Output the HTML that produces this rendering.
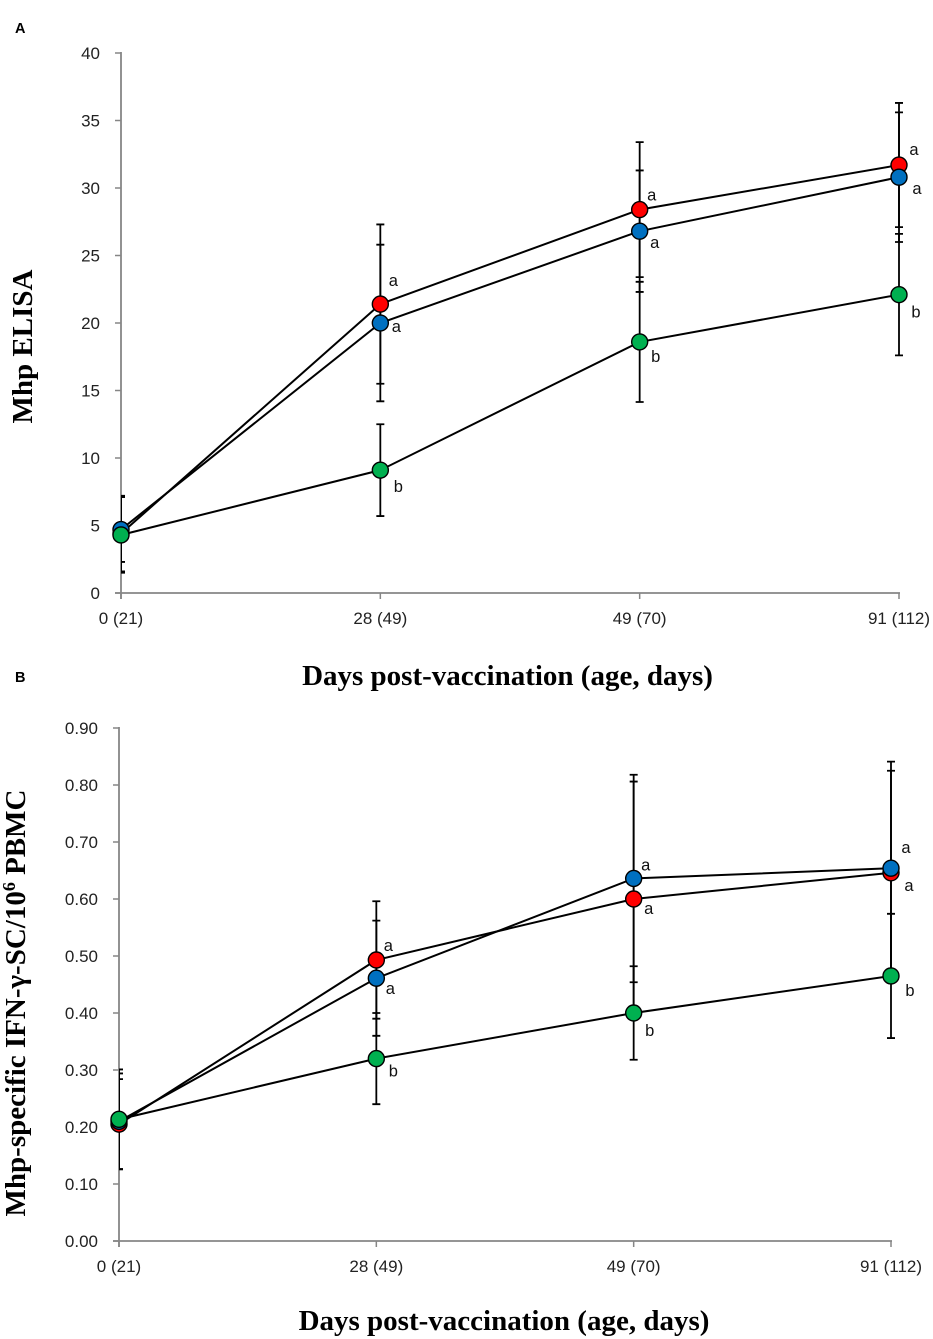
<!DOCTYPE html>
<html lang="en">
<head>
<meta charset="utf-8">
<title>Mhp ELISA and IFN-γ-SC responses</title>
<style>
html,body{margin:0;padding:0;background:#fff;}
svg{display:block;}
.tick{font-family:"Liberation Sans",sans-serif;font-size:17px;fill:#222;}
.letter{font-family:"Liberation Sans",sans-serif;font-size:16.5px;fill:#111;}
.title{font-family:"Liberation Serif",serif;font-weight:bold;font-size:29px;fill:#000;}
.panel{font-family:"Liberation Sans",sans-serif;font-weight:bold;font-size:14.5px;fill:#000;}
</style>
</head>
<body>
<svg id="figure" xmlns="http://www.w3.org/2000/svg" width="933" height="1339" viewBox="0 0 933 1339">
  <rect width="933" height="1339" fill="#fff"></rect>
  <defs>
    <clipPath id="clip-a"><rect x="121" y="40" width="800" height="553"></rect></clipPath>
    <clipPath id="clip-b"><rect x="119" y="715" width="800" height="526"></rect></clipPath>
  </defs>
  <text class="panel" x="15" y="33">A</text>
  <text class="panel" x="15" y="682">B</text>
  <g id="chart-a"></g>
  <g id="chart-b"></g>
  <text class="title" text-anchor="middle" transform="translate(32,346.5) rotate(-90)">Mhp ELISA</text>
  <text class="title" text-anchor="middle" x="507.5" y="685">Days post-vaccination (age, days)</text>
  <text class="title" text-anchor="middle" transform="translate(25,1003) rotate(-90)">Mhp-specific IFN-γ-SC/10<tspan font-size="18" dy="-10">6</tspan><tspan dy="10"> PBMC</tspan></text>
  <text class="title" text-anchor="middle" x="504" y="1330">Days post-vaccination (age, days)</text>
</svg>
<script>
const categories = ['0 (21)', '28 (49)', '49 (70)', '91 (112)'];

const elisaTicks = ['0', '5', '10', '15', '20', '25', '30', '35', '40'];
const elisaRed = [4.4, 21.4, 28.4, 31.7];
const elisaRedErr = [2.8, 5.9, 5.0, 4.6];
const elisaBlue = [4.7, 20.0, 26.8, 30.8];
const elisaBlueErr = [2.4, 5.8, 4.5, 4.8];
const elisaGreen = [4.3, 9.1, 18.6, 22.1];
const elisaGreenErr = [2.8, 3.4, 4.45, 4.5];
const elisaRedLetters = ['', 'a', 'a', 'a'];
const elisaBlueLetters = ['', 'a', 'a', 'a'];
const elisaGreenLetters = ['', 'b', 'b', 'b'];

const ifnTicks = ['0.00', '0.10', '0.20', '0.30', '0.40', '0.50', '0.60', '0.70', '0.80', '0.90'];
const ifnRed = [0.205, 0.493, 0.600, 0.646];
const ifnRedErr = [0.079, 0.103, 0.206, 0.179];
const ifnBlue = [0.210, 0.461, 0.636, 0.654];
const ifnBlueErr = [0.084, 0.101, 0.182, 0.187];
const ifnGreen = [0.2135, 0.320, 0.400, 0.465];
const ifnGreenErr = [0.0875, 0.080, 0.082, 0.109];
const ifnRedLetters = ['', 'a', 'a', 'a'];
const ifnBlueLetters = ['', 'a', 'a', 'a'];
const ifnGreenLetters = ['', 'b', 'b', 'b'];

const NS = 'http://www.w3.org/2000/svg';
function make(parent, tag, attrs, text) {
  const el = document.createElementNS(NS, tag);
  for (const k in attrs) el.setAttribute(k, attrs[k]);
  if (text !== undefined) el.textContent = text;
  parent.appendChild(el);
  return el;
}

function drawChart(root, cfg) {
  const xOf = i => cfg.x0 + (cfg.x1 - cfg.x0) * i / (categories.length - 1);
  const yMax = parseFloat(cfg.ticks[cfg.ticks.length - 1]);
  const yOf = v => cfg.y0 + (cfg.yTop - cfg.y0) * v / yMax;
  const axis = '#868686';

  const yLine = make(root, 'line', {x1: cfg.x0, x2: cfg.x0, y1: cfg.yTop - 1, y2: cfg.y0 + 6, stroke: axis, 'stroke-width': 1.8});
  
  
  const xLine = make(root, 'line', {x1: cfg.x0 - 6, x2: cfg.x1 + 1, y1: cfg.y0, y2: cfg.y0, stroke: axis, 'stroke-width': 1.8});
  
  

  cfg.ticks.forEach(label => {
    const y = yOf(parseFloat(label));
    const t = make(root, 'line', {x1: cfg.x0 - 6, x2: cfg.x0, y1: y, y2: y, stroke: axis, 'stroke-width': 1.5});
    
    
    const l = make(root, 'text', {class: 'tick', x: cfg.x0 - 21, y: y + 6, 'text-anchor': 'end'}, label);
    
    
  });
  categories.forEach((label, i) => {
    const x = xOf(i);
    const t = make(root, 'line', {x1: x, x2: x, y1: cfg.y0, y2: cfg.y0 + 6, stroke: axis, 'stroke-width': 1.5});
    
    
    const l = make(root, 'text', {class: 'tick', x: x, y: cfg.y0 + 31, 'text-anchor': 'middle'}, label);
    
    
  });

  const errGroup = make(root, 'g', {'clip-path': 'url(#' + cfg.clip + ')', stroke: '#000', 'stroke-width': 1.8, fill: 'none'});
  
  
  cfg.series.forEach(s => {
    s.values.forEach((v, i) => {
      const x = xOf(i), hi = yOf(v + s.err[i]), lo = yOf(v - s.err[i]);
      const bar = make(errGroup, 'path', {d: 'M' + x + ' ' + hi + 'V' + lo + 'M' + (x - 4) + ' ' + hi + 'H' + (x + 4) + 'M' + (x - 4) + ' ' + lo + 'H' + (x + 4)});
      
      
    });
  });

  cfg.series.forEach(s => {
    const pts = s.values.map((v, i) => xOf(i) + ',' + yOf(v)).join(' ');
    const line = make(root, 'polyline', {points: pts, fill: 'none', stroke: '#000', 'stroke-width': 2});
    
    
  });
  cfg.series.forEach(s => {
    s.values.forEach((v, i) => {
      const dot = make(root, 'circle', {cx: xOf(i), cy: yOf(v), r: 8, fill: s.color, stroke: '#000', 'stroke-width': 1.4});
      
      
      if (s.letters[i]) {
        const off = s.offsets[i];
        const tx = make(root, 'text', {class: 'letter', x: xOf(i) + off[0], y: yOf(v) + off[1] + 5, 'text-anchor': 'middle'}, s.letters[i]);
        
        
      }
    });
  });
}

drawChart(document.getElementById('chart-a'), {
  x0: 121, x1: 899, y0: 593, yTop: 53, ticks: elisaTicks, clip: 'clip-a',
  series: [
    {name: 'red', color: '#FF0000', values: elisaRed, err: elisaRedErr, letters: elisaRedLetters, offsets: [[0,0],[13,-23],[12,-14],[15,-15]]},
    {name: 'blue', color: '#0070C0', values: elisaBlue, err: elisaBlueErr, letters: elisaBlueLetters, offsets: [[0,0],[16,4],[15,12],[18,12]]},
    {name: 'green', color: '#00B050', values: elisaGreen, err: elisaGreenErr, letters: elisaGreenLetters, offsets: [[0,0],[18,17],[16,15],[17,18]]}
  ]
});

drawChart(document.getElementById('chart-b'), {
  x0: 119, x1: 891, y0: 1241, yTop: 728, ticks: ifnTicks, clip: 'clip-b',
  series: [
    {name: 'red', color: '#FF0000', values: ifnRed, err: ifnRedErr, letters: ifnRedLetters, offsets: [[0,0],[12,-14],[15,10],[18,13]]},
    {name: 'blue', color: '#0070C0', values: ifnBlue, err: ifnBlueErr, letters: ifnBlueLetters, offsets: [[0,0],[14,11],[12,-13],[15,-20]]},
    {name: 'green', color: '#00B050', values: ifnGreen, err: ifnGreenErr, letters: ifnGreenLetters, offsets: [[0,0],[17,13],[16,18],[19,15]]}
  ]
});
</script>
</body>
</html>
